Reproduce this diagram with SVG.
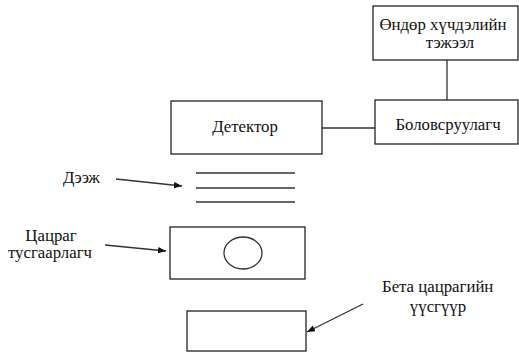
<svg xmlns="http://www.w3.org/2000/svg" width="519" height="354" viewBox="0 0 519 354">
<defs>
<marker id="ah" viewBox="0 0 10 10" refX="10" refY="5" markerWidth="8" markerHeight="8" markerUnits="userSpaceOnUse" orient="auto">
<path d="M0,1 L10,5 L0,9 Z" fill="#111"/>
</marker>
</defs>
<rect width="519" height="354" fill="#fff"/>
<g id="connectors" stroke="#333" stroke-width="1.3" fill="none">
<line x1="447" y1="60" x2="447" y2="100"/>
<line x1="322" y1="128" x2="375" y2="128"/>
<line x1="116" y1="179" x2="182" y2="186" marker-end="url(#ah)"/>
<line x1="105" y1="245" x2="166" y2="251" marker-end="url(#ah)"/>
<line x1="363" y1="304" x2="307" y2="332" marker-end="url(#ah)"/>
</g>
<g id="power">
<rect x="373" y="6" width="145" height="54" fill="#fff" stroke="#222" stroke-width="1.3"/>
<text x="443" y="30" text-anchor="middle" fill="#111" font-family="Liberation Serif" font-size="16.8">Өндөр хүчдэлийн</text>
<text x="450" y="48" text-anchor="middle" fill="#111" font-family="Liberation Serif" font-size="16.8">тэжээл</text>
</g>
<g id="processor">
<rect x="375" y="100" width="143" height="44" fill="#fff" stroke="#222" stroke-width="1.3"/>
<text x="448" y="130" text-anchor="middle" fill="#111" font-family="Liberation Serif" font-size="16.8">Боловсруулагч</text>
</g>
<g id="detector">
<rect x="171" y="101" width="151" height="53" fill="#fff" stroke="#222" stroke-width="1.3"/>
<text x="245" y="132" text-anchor="middle" fill="#111" font-family="Liberation Serif" font-size="16.8">Детектор</text>
</g>
<g id="sample">
<g stroke="#333" stroke-width="1.3">
<line x1="196" y1="173" x2="295" y2="173"/>
<line x1="196" y1="188" x2="295" y2="188"/>
<line x1="196" y1="202" x2="295" y2="202"/>
</g>
<text x="63" y="183" fill="#111" font-family="Liberation Serif" font-size="16.8">Дээж</text>
</g>
<g id="collimator">
<rect x="170" y="227" width="135" height="52" fill="#fff" stroke="#222" stroke-width="1.3"/>
<ellipse cx="243" cy="253" rx="19" ry="16" fill="none" stroke="#333" stroke-width="1.3"/>
<text x="51" y="241" text-anchor="middle" fill="#111" font-family="Liberation Serif" font-size="16.8">Цацраг</text>
<text x="50" y="258" text-anchor="middle" fill="#111" font-family="Liberation Serif" font-size="16.8">тусгаарлагч</text>
</g>
<g id="source">
<rect x="187" y="311" width="119" height="40" fill="#fff" stroke="#222" stroke-width="1.3"/>
<text x="382" y="292" fill="#111" font-family="Liberation Serif" font-size="16.8">Бета цацрагийн</text>
<text x="438" y="312" text-anchor="middle" fill="#111" font-family="Liberation Serif" font-size="16.8">үүсгүүр</text>
</g>
</svg>
